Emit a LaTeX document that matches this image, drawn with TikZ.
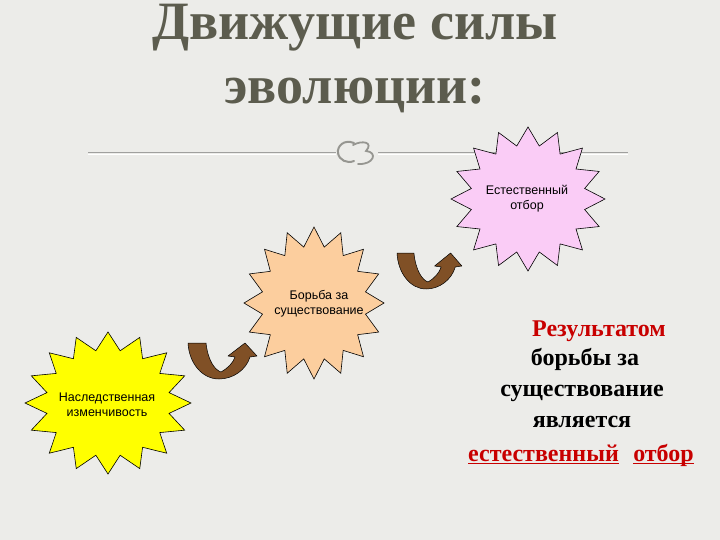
\documentclass[tikz,border=0pt]{standalone}
\usepackage{fontspec}
\setmainfont{Liberation Serif}
\newfontfamily\arialf{Liberation Sans}
\definecolor{bgc}{RGB}{236,236,233}
\definecolor{titlec}{RGB}{92,92,78}
\definecolor{rulec}{RGB}{160,160,158}
\definecolor{glyphc}{RGB}{150,150,145}
\definecolor{pinkc}{RGB}{250,204,246}
\definecolor{peachc}{RGB}{252,206,158}
\definecolor{yellowc}{RGB}{255,255,0}
\definecolor{brownc}{RGB}{128,80,38}
\definecolor{redc}{RGB}{200,0,0}
\newcommand\redul[1]{\setbox0\hbox{#1}\rlap{\color{redc}\rule[-3pt]{\wd0}{1.4pt}}\box0}
\begin{document}
\begin{tikzpicture}[x=1pt,y=-1pt,
  titletext/.style={anchor=base, text=titlec, font=\bfseries\fontsize{54}{60}\selectfont, inner sep=0pt},
  starbody/.style={draw=black, line width=0.6pt, line join=miter},
  startext/.style={align=center, text=black, inner sep=0pt, font=\arialf\fontsize{12.5}{15}\selectfont},
  restext/.style={anchor=base, inner sep=0pt, font=\bfseries\fontsize{24}{28}\selectfont},
  uarrow/.style={fill=brownc, draw=black, line width=0.5pt, line join=round}
]
\fill[bgc] (0,0) rectangle (720,540);
\useasboundingbox (0,0) rectangle (720,540);

% title
\node[titletext] (t1) at (355,40) {Движущие силы};
\node[titletext] (t2) at (355,104) {эволюции:};

% rule with ornament
\draw[rulec, line width=1pt] (88,153) -- (336,153);
\draw[rulec, line width=1pt] (378,153) -- (628,153);
\draw[white, line width=0.6pt] (88,154.3) -- (336,154.3) (378,154.3) -- (628,154.3);
\draw[glyphc, line width=2pt, line cap=round]
  (354,143) .. controls (344,139) and (337,146) .. (338,153)
  .. controls (339,160) and (347,164) .. (354,161);
\draw[glyphc, line width=1.8pt, line cap=round]
  (353,145) .. controls (362,140) and (374,142) .. (366,151)
  .. controls (378,152) and (374,165) .. (358,164);

% stars
\filldraw[starbody, fill=pinkc] plot[samples at={0,...,31}, variable=\t]
  ({528+(1-0.25*mod(\t,2))*77*cos(\t*11.25)}, {199-(1-0.25*mod(\t,2))*72*sin(\t*11.25)}) -- cycle;
\filldraw[starbody, fill=peachc] plot[samples at={0,...,31}, variable=\t]
  ({314+(1-0.25*mod(\t,2))*70*cos(\t*11.25)}, {303-(1-0.25*mod(\t,2))*76*sin(\t*11.25)}) -- cycle;
\filldraw[starbody, fill=yellowc] plot[samples at={0,...,31}, variable=\t]
  ({108+(1-0.25*mod(\t,2))*83*cos(\t*11.25)}, {403-(1-0.25*mod(\t,2))*71*sin(\t*11.25)}) -- cycle;

\node[startext] (sel) at (527,199) {Естественный\\отбор};
\node[startext] (fight) at (319,304) {Борьба за\\существование};
\node[startext] (var) at (107,405) {Наследственная\\изменчивость};

% curved up arrows
\foreach \ox/\oy/\s in {188/343/1, 397/253/0.94} {
  \begin{scope}[shift={(\ox,\oy)}, xscale=\s]
    \filldraw[uarrow] (0,0) -- (18,0)
      .. controls (20,18) and (27,27) .. (33,29)
      .. controls (40,25) and (45,20) .. (47,14)
      -- (40,13) -- (57,0) -- (69,13) -- (62,14)
      .. controls (58,27) and (45,36) .. (31,36)
      .. controls (14,36) and (1,20) .. (0,0) -- cycle;
  \end{scope}
}

% result text
\node[restext, text=redc] (r1) at (599,336) {Результатом};
\node[restext, text=black] (r2) at (585,365) {борьбы за};
\node[restext, text=black] (r3) at (582,396) {существование};
\node[restext, text=black] (r4) at (582,427) {является};
\node[restext, text=redc] (r5) at (581,461) {\redul{естественный}\hspace{0.6em}\redul{отбор}};
\end{tikzpicture}
\end{document}
